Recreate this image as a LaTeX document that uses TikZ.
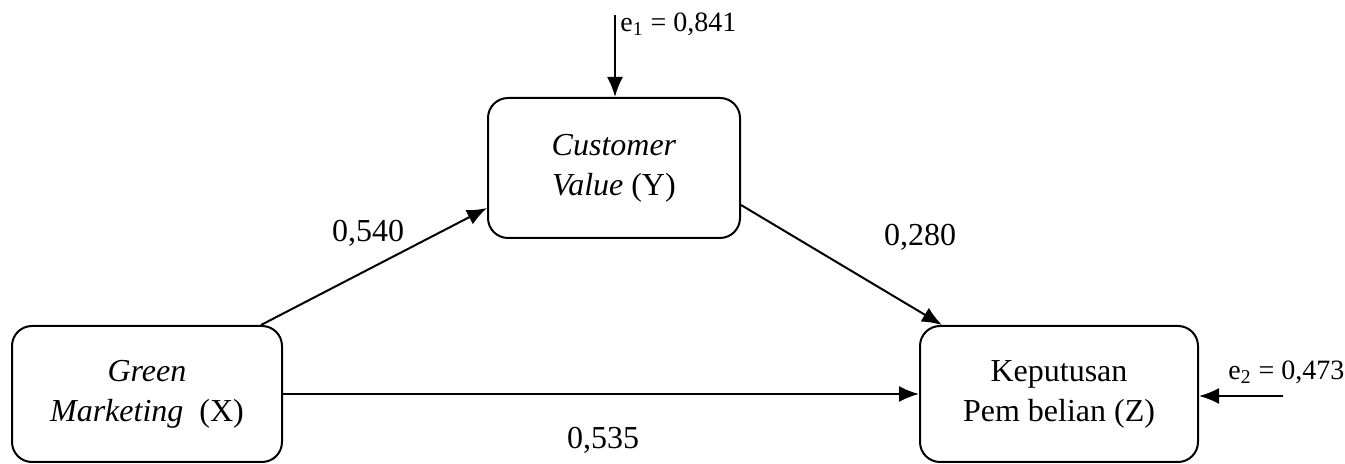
\documentclass[tikz,border=0pt]{standalone}
\usepackage{fontspec}
\setmainfont{Liberation Serif}
\usetikzlibrary{arrows.meta}

\begin{document}
\begin{tikzpicture}[x=0.5pt, y=-0.5pt, >={Latex[length=10pt,width=8pt]},
        font=\fontsize{16}{20}\selectfont,
        varbox/.style={draw, rounded corners=10pt, line width=1pt, align=center}]
            \useasboundingbox (0,0) rectangle (1345,464);

            \node(gm) at (147,394) [varbox, minimum width=135pt, minimum height=68pt] {\textit{Green}\\\textit{Marketing}~~(X)};
            \node(cv) at (614,168) [varbox, minimum width=126pt, minimum height=70pt] {\textit{Customer}\\\textit{Value} (Y)};
            \node(kp) at (1059,394) [varbox, minimum width=139pt, minimum height=68pt] {Keputusan\\Pem belian (Z)};

            \coordinate(e1) at (615,15);
            \coordinate(e2) at (1283,396);
            \node(e1_lbl) at (620,24) [anchor=west, inner sep=0pt, font=\fontsize{14}{16}\selectfont] {e\textsubscript{1} = 0,841};
            \node(e2_lbl) at (1228,372) [anchor=west, inner sep=0pt, font=\fontsize{14}{16}\selectfont] {e\textsubscript{2} = 0,473};

            \node(p_xy) at (368,233) [] {0,540};
            \node(p_yz) at (920,237) [] {0,280};
            \node(p_xz) at (603,440) [] {0,535};

            \draw[->, line width=1pt] ([xshift=-11pt]gm.north east) -- ([yshift=-20pt]cv.west);
            \draw[->, line width=1pt] ([yshift=-18.5pt]cv.east) -- ([xshift=11.5pt]kp.north west);
            \draw[->, line width=1pt] (gm) -- (kp);
            \draw[->, line width=1pt] (e1) -- (e1 |- cv.north);
            \draw[->, line width=1pt] (e2) -- (kp.east |- e2);
        \end{tikzpicture}
\end{document}
